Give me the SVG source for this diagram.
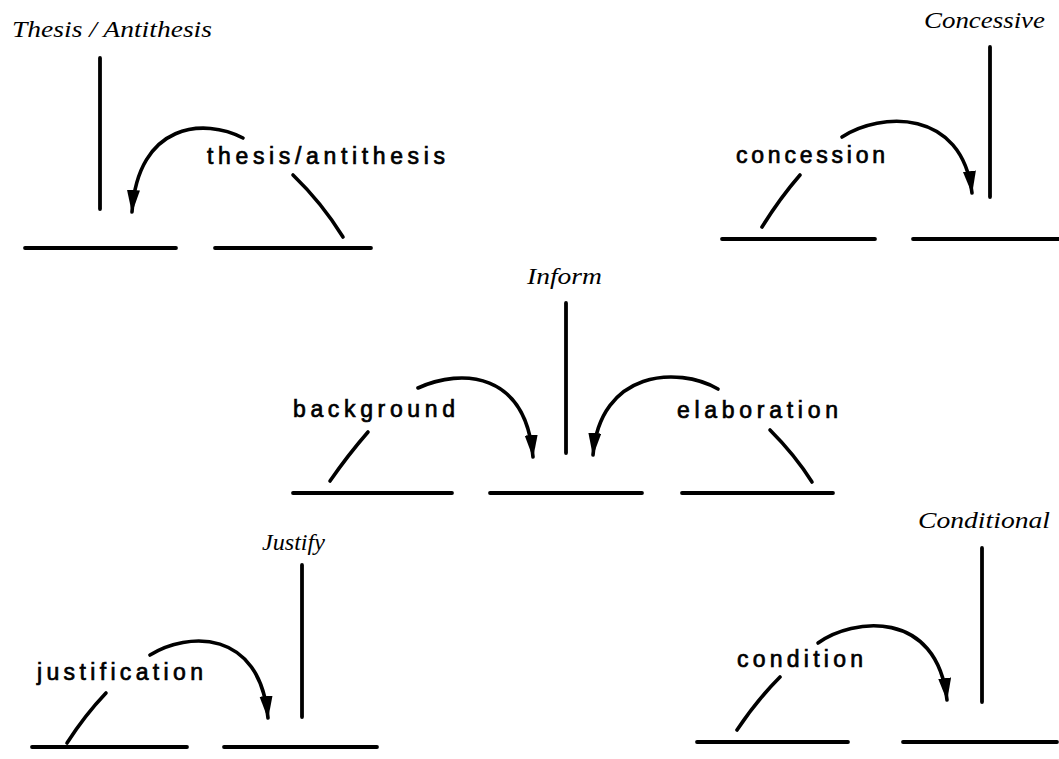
<svg xmlns="http://www.w3.org/2000/svg" width="1059" height="759" viewBox="0 0 1059 759">
<style>
.seg{stroke:#000;stroke-width:3.8;stroke-linecap:round;fill:none}
.arc{stroke:#000;stroke-width:3.6;fill:none;stroke-linecap:round}
.title{font-family:"Liberation Serif",serif;font-style:italic;font-size:23px;fill:#000}
.lbl{font-family:"Liberation Sans",Arial,sans-serif;font-size:23px;fill:#000;stroke:#000;stroke-width:0.7}
</style>
<defs>
<marker id="ah" markerUnits="userSpaceOnUse" markerWidth="24" markerHeight="14" refX="22" refY="6.5" orient="auto">
<path d="M0,0 L23,6.5 L0,13 Z" fill="#000"/>
</marker>
</defs>
<rect width="1059" height="759" fill="#fff"/>

<g id="thesis-antithesis">
<text class="title" x="12" y="37" textLength="200" lengthAdjust="spacingAndGlyphs">Thesis / Antithesis</text>
<line class="seg" x1="100" y1="58" x2="100" y2="209"/>
<line class="seg" x1="25" y1="248" x2="176" y2="248"/>
<line class="seg" x1="215" y1="248" x2="371" y2="248"/>
<text class="lbl" x="207" y="164" textLength="238" lengthAdjust="spacing">thesis/antithesis</text>
</g>

<g id="concessive">
<text class="title" x="924" y="28" textLength="121" lengthAdjust="spacingAndGlyphs">Concessive</text>
<line class="seg" x1="990" y1="47" x2="990" y2="197"/>
<line class="seg" x1="722" y1="239" x2="875" y2="239"/>
<line class="seg" x1="913" y1="239" x2="1059" y2="239"/>
<text class="lbl" x="736" y="163" textLength="149" lengthAdjust="spacing">concession</text>
</g>

<g id="inform">
<text class="title" x="527" y="284" textLength="75" lengthAdjust="spacingAndGlyphs">Inform</text>
<line class="seg" x1="566" y1="303" x2="566" y2="453"/>
<line class="seg" x1="293" y1="493" x2="452" y2="493"/>
<line class="seg" x1="490" y1="493" x2="642" y2="493"/>
<line class="seg" x1="682" y1="493" x2="833" y2="493"/>
<text class="lbl" x="293" y="417" textLength="162" lengthAdjust="spacing">background</text>
<text class="lbl" x="677" y="418" textLength="161" lengthAdjust="spacing">elaboration</text>
</g>

<g id="justify">
<text class="title" x="262" y="550" textLength="63" lengthAdjust="spacingAndGlyphs">Justify</text>
<line class="seg" x1="302" y1="565" x2="302" y2="717"/>
<line class="seg" x1="32" y1="747" x2="187" y2="747"/>
<line class="seg" x1="224" y1="747" x2="377" y2="747"/>
<text class="lbl" x="37" y="680" textLength="166" lengthAdjust="spacing">justification</text>
</g>

<g id="conditional">
<text class="title" x="918" y="528" textLength="132" lengthAdjust="spacingAndGlyphs">Conditional</text>
<line class="seg" x1="982" y1="548" x2="982" y2="702"/>
<line class="seg" x1="697" y1="742" x2="848" y2="742"/>
<line class="seg" x1="903" y1="742" x2="1057" y2="742"/>
<text class="lbl" x="737" y="667" textLength="126" lengthAdjust="spacing">condition</text>
</g>

<g id="connectors">
<path class="arc" d="M243,138 C205,118 138,122 132,212" marker-end="url(#ah)"/>
<path class="arc" d="M293,175 Q322,203 343,237"/>
<path class="arc" d="M842,137 C880,112 962,108 972,193" marker-end="url(#ah)"/>
<path class="arc" d="M800,175 Q780,198 762,227"/>
<path class="arc" d="M418,388 C462,368 526,372 533,457" marker-end="url(#ah)"/>
<path class="arc" d="M368,432 Q348,455 330,481"/>
<path class="arc" d="M718,389 C678,366 600,370 593,455" marker-end="url(#ah)"/>
<path class="arc" d="M770,430 Q795,455 812,482"/>
<path class="arc" d="M150,655 C187,632 260,628 268,718" marker-end="url(#ah)"/>
<path class="arc" d="M106,693 Q85,715 67,743"/>
<path class="arc" d="M818,643 C852,618 937,608 947,700" marker-end="url(#ah)"/>
<path class="arc" d="M780,677 Q757,700 737,730"/>
</g>
</svg>
